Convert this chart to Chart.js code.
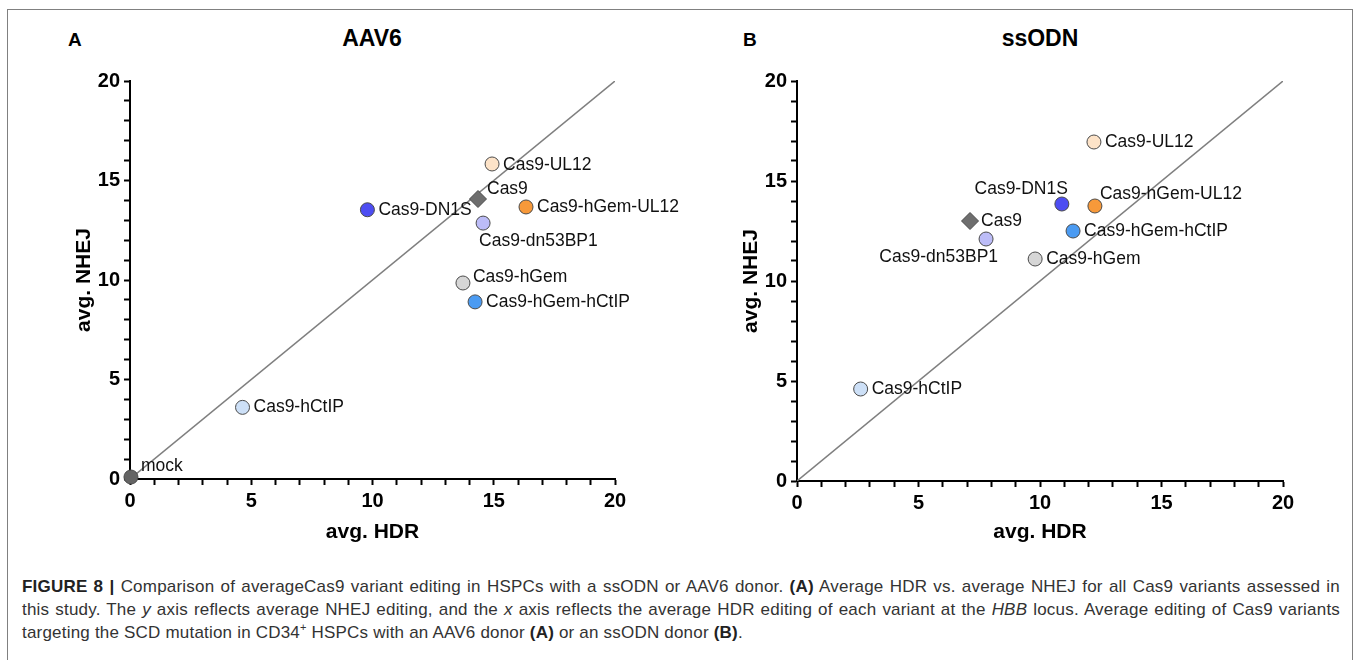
<!DOCTYPE html>
<html>
<head>
<meta charset="utf-8">
<script src="https://cdn.jsdelivr.net/npm/chart.js@4.4.1/dist/chart.umd.min.js"></script>
<style>
    body { margin: 0; background: #fff; width: 1358px; height: 660px; overflow: hidden; position: relative;
           font-family: "Liberation Sans", Arial, sans-serif; }
    .frame { position: absolute; left: 7px; top: 9px; width: 1344px; height: 700px; border: 1px solid #808080; }
    .panel { position: absolute; top: 55px; }
    .tag { position: absolute; font-weight: bold; font-size: 19px; line-height: 1; color: #000; }
    .title { position: absolute; font-weight: bold; font-size: 23px; line-height: 1; color: #000; transform: translateX(-50%); }
    .caption { position: absolute; left: 22px; top: 575px; width: 1318px; font-size: 17px; letter-spacing: 0.2px;
               line-height: 23px; color: #333; }
    .caption div { text-align: justify; text-align-last: justify; white-space: nowrap; }
    .caption div.last { text-align-last: left; }
    .caption b { color: #222; }
    .caption sup { font-size: 11px; line-height: 0; }
</style>
</head>
<body>
<div class="frame"></div>

<div class="tag" style="left:68px; top:30px;">A</div>
<div class="title" style="left:372px; top:27px;">AAV6</div>
<div class="tag" style="left:743px; top:30px;">B</div>
<div class="title" style="left:1040px; top:27px;">ssODN</div>

<div class="panel" style="left:10px;"><canvas id="chartA" width="670" height="490"></canvas></div>
<div class="panel" style="left:690px;"><canvas id="chartB" width="660" height="490"></canvas></div>

<div class="caption">
    <div><b>FIGURE 8 |</b> Comparison of averageCas9 variant editing in HSPCs with a ssODN or AAV6 donor. <b>(A)</b> Average HDR vs. average NHEJ for all Cas9 variants assessed in</div>
    <div>this study. The <i>y</i> axis reflects average NHEJ editing, and the <i>x</i> axis reflects the average HDR editing of each variant at the <i>HBB</i> locus. Average editing of Cas9 variants</div>
    <div class="last">targeting the SCD mutation in CD34<sup>+</sup> HSPCs with an AAV6 donor <b>(A)</b> or an ssODN donor <b>(B)</b>.</div>
</div>

<script>
// =============================================================================
// Data
// =============================================================================

const aavNames = ['Cas9', 'Cas9-UL12', 'Cas9-hGem-UL12', 'Cas9-DN1S', 'Cas9-dn53BP1',
                  'Cas9-hGem', 'Cas9-hGem-hCtIP', 'Cas9-hCtIP', 'mock'];
const aavHdr  = [14.35, 14.93, 16.33, 9.79, 14.56, 13.73, 14.23, 4.64, 0.04];
const aavNhej = [14.07, 15.83, 13.67, 13.53, 12.86, 9.85, 8.90, 3.60, 0.10];

const ssNames = ['Cas9', 'Cas9-UL12', 'Cas9-hGem-UL12', 'Cas9-DN1S', 'Cas9-dn53BP1',
                 'Cas9-hGem', 'Cas9-hGem-hCtIP', 'Cas9-hCtIP'];
const ssHdr  = [7.12, 12.22, 12.26, 10.90, 7.78, 9.80, 11.36, 2.62];
const ssNhej = [13.00, 16.95, 13.75, 13.85, 12.10, 11.10, 12.50, 4.60];

const axisMin = 0;
const axisMax = 20;
const identityLine = [0, 20];

// =============================================================================
// Styles
// =============================================================================

const FONT = '"Liberation Sans", Arial, sans-serif';

const variantColors = {
    'Cas9': '#6e6e6e',
    'Cas9-UL12': '#fde3c8',
    'Cas9-hGem-UL12': '#f7993a',
    'Cas9-DN1S': '#4d4df2',
    'Cas9-dn53BP1': '#bcbcf7',
    'Cas9-hGem': '#d6d6d6',
    'Cas9-hGem-hCtIP': '#4b9bf2',
    'Cas9-hCtIP': '#cde0f7',
    'mock': '#646464'
};

// label placement: [textAlign, dx, dy] relative to the point
const aavLabelLayout = [
    ['left', 9, -10], ['left', 11, 1], ['left', 11, 0], ['left', 11, 0], ['left', -4, 18],
    ['left', 10, -6], ['left', 11, 0], ['left', 11, 0], ['left', 10, -11]
];
const ssLabelLayout = [
    ['left', 11, 0], ['left', 11, 0], ['left', 5, -12], ['right', 6, -15], ['right', 12, 18],
    ['left', 11, 0], ['left', 11, 0], ['left', 11, 0]
];

// =============================================================================
// Point label plugin
// =============================================================================

const pointLabels = {
    id: 'pointLabels',
    afterDatasetsDraw(chart, args, opts) {
        const meta = chart.getDatasetMeta(0);
        const ctx = chart.ctx;
        ctx.save();
        ctx.font = '17.5px ' + FONT;
        ctx.fillStyle = '#111';
        ctx.textBaseline = 'middle';
        meta.data.forEach((pt, i) => {
            const [align, dx, dy] = opts.layout[i];
            ctx.textAlign = align;
            ctx.fillText(opts.labels[i], pt.x + dx, pt.y + dy);
        });
        ctx.restore();
    }
};

// =============================================================================
// Chart factory
// =============================================================================

function axisOptions(isX, area, canvasW, canvasH, titleText, titlePad) {
    return {
        type: 'linear',
        min: axisMin,
        max: axisMax,
        afterFit(scale) {
            if (isX) scale.height = canvasH - area.bottom;
            else scale.width = area.left;
        },
        ticks: {
            stepSize: 1,
            autoSkip: false,
            maxRotation: 0,
            padding: 4,
            color: '#000',
            font: { family: FONT, size: 20, weight: 'bold' },
            callback: (v) => (v % 5 === 0 ? v : '')
        },
        grid: {
            display: true,
            drawOnChartArea: false,
            drawTicks: true,
            tickLength: 6,
            tickWidth: 2,
            tickColor: '#000'
        },
        border: { display: true, color: '#000', width: 2 },
        title: {
            display: true,
            text: titleText,
            color: '#000',
            font: { family: FONT, size: 21, weight: 'bold' },
            padding: titlePad
        }
    };
}

function makeChart(canvasId, names, hdr, nhej, layout, area, yTitlePad) {
    const canvas = document.getElementById(canvasId);
    const W = canvas.width, H = canvas.height;
    const points = names.map((n, i) => ({ x: hdr[i], y: nhej[i] }));

    return new Chart(canvas.getContext('2d'), {
        type: 'scatter',
        data: {
            datasets: [
                {
                    label: 'variants',
                    data: points,
                    order: 1,
                    clip: false,
                    backgroundColor: names.map(n => variantColors[n]),
                    borderColor: '#4a4a4a',
                    borderWidth: 1,
                    pointStyle: names.map(n => (n === 'Cas9' ? 'rectRot' : 'circle')),
                    pointRadius: names.map(n => (n === 'Cas9' ? 8.5 : 7)),
                    pointHoverRadius: 7
                },
                {
                    type: 'line',
                    label: 'x = y',
                    data: identityLine.map(v => ({ x: v, y: v })),
                    order: 2,
                    borderColor: '#7f7f7f',
                    borderWidth: 1.5,
                    pointRadius: 0,
                    fill: false
                }
            ]
        },
        options: {
            responsive: false,
            animation: false,
            devicePixelRatio: 1,
            layout: { padding: { left: 0, top: area.top, right: W - area.right, bottom: 0 } },
            plugins: {
                legend: { display: false },
                tooltip: { enabled: false },
                pointLabels: { labels: names, layout: layout }
            },
            scales: {
                x: axisOptions(true, area, W, H, 'avg. HDR', { top: 0, bottom: 0 }),
                y: axisOptions(false, area, W, H, 'avg. NHEJ', { top: yTitlePad, bottom: 0 })
            }
        },
        plugins: [pointLabels]
    });
}

makeChart('chartA', aavNames, aavHdr, aavNhej, aavLabelLayout,
          { left: 120, right: 605, top: 26, bottom: 424 }, 62);
makeChart('chartB', ssNames, ssHdr, ssNhej, ssLabelLayout,
          { left: 107, right: 593, top: 26, bottom: 426 }, 49);
</script>
</body>
</html>
